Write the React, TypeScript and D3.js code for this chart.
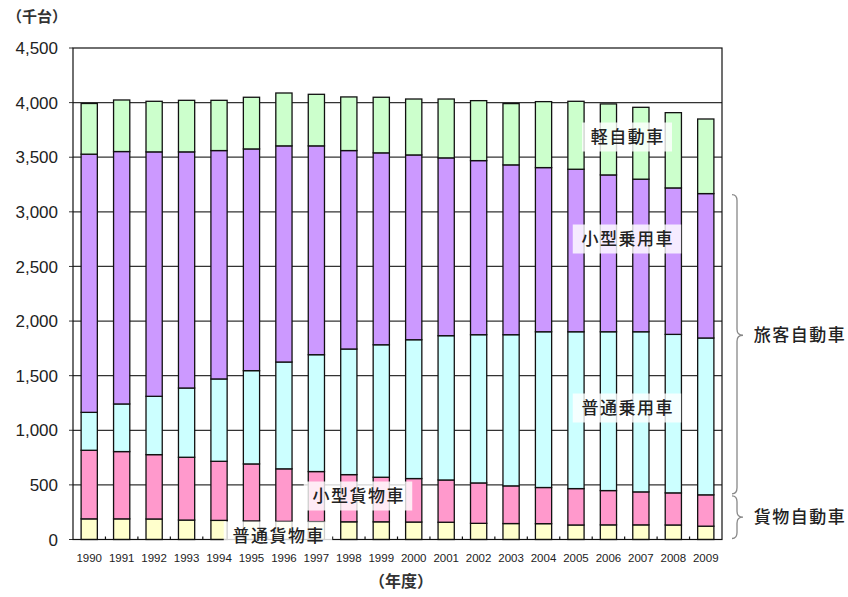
import React from 'react';
import * as d3 from 'd3';

// 年度
const years = [
  '1990', '1991', '1992', '1993', '1994', '1995', '1996', '1997', '1998', '1999',
  '2000', '2001', '2002', '2003', '2004', '2005', '2006', '2007', '2008', '2009',
];

// 車種別の台数（千台）
const futsuKamotsu = [189, 189, 188, 178, 175, 170, 166, 164, 162, 162, 160, 158, 148, 146, 145, 133, 134, 134, 133, 122];
const kogataKamotsu = [628, 616, 589, 575, 541, 522, 481, 458, 432, 408, 398, 387, 370, 345, 331, 333, 314, 302, 294, 287];
const futsuJoyo = [347, 436, 534, 634, 754, 854, 978, 1070, 1150, 1213, 1271, 1321, 1357, 1384, 1426, 1436, 1454, 1466, 1451, 1436];
const kogataJoyo = [2364, 2311, 2238, 2162, 2091, 2030, 1979, 1912, 1817, 1757, 1692, 1628, 1594, 1555, 1503, 1488, 1436, 1397, 1341, 1322];
const keiJidosha = [464, 472, 463, 472, 460, 473, 484, 472, 491, 509, 512, 539, 549, 561, 604, 622, 650, 658, 689, 683];

const seriesNames = ['普通貨物車', '小型貨物車', '普通乗用車', '小型乗用車', '軽自動車'];
const seriesValues = [futsuKamotsu, kogataKamotsu, futsuJoyo, kogataJoyo, keiJidosha];
const seriesColors = ['#ffffcc', '#ff99cc', '#ccffff', '#cc99ff', '#ccffcc'];

const yTicks = [0, 500, 1000, 1500, 2000, 2500, 3000, 3500, 4000, 4500];

const W = 848;
const H = 597;
const plot = { left: 73, right: 722, top: 48, bottom: 539.5 };

const CJK = '"Noto Sans CJK JP", "Noto Sans", sans-serif';
const NUM = '"Liberation Sans", Arial, sans-serif';
const NARROW = '"Liberation Sans Narrow", "Liberation Sans", Arial, sans-serif';

type Row = { year: string } & Record<string, number | string>;

const rows: Row[] = years.map((year, i) => {
  const r: Row = { year };
  seriesNames.forEach((name, k) => {
    r[name] = seriesValues[k][i];
  });
  return r;
});

const stack = d3.stack<Row>().keys(seriesNames).value((d, key) => d[key] as number);
const stacked = stack(rows);

const x = d3
  .scaleBand<string>()
  .domain(years)
  .range([plot.left, plot.right])
  .paddingInner(0.5)
  .paddingOuter(0.25);

const y = d3.scaleLinear().domain([0, 4500]).range([plot.bottom, plot.top]);

// Curly brace opening to the left, tip pointing right
function bracePath(xl: number, y0: number, y1: number, tipFrac: number): string {
  const xs = xl + 5;
  const xt = xl + 11;
  const ym = y0 + (y1 - y0) * tipFrac;
  const c = 6;
  return [
    `M${xl},${y0}`,
    `Q${xs},${y0} ${xs},${y0 + c}`,
    `L${xs},${ym - c}`,
    `Q${xs},${ym} ${xt},${ym}`,
    `Q${xs},${ym} ${xs},${ym + c}`,
    `L${xs},${y1 - c}`,
    `Q${xs},${y1} ${xl},${y1}`,
  ].join(' ');
}

type Note = { text: string; cx: number; cy: number };

const notes: Note[] = [
  { text: '軽自動車', cx: 627, cy: 137 },
  { text: '小型乗用車', cx: 627, cy: 239 },
  { text: '普通乗用車', cx: 627, cy: 408 },
  { text: '小型貨物車', cx: 358, cy: 496 },
  { text: '普通貨物車', cx: 278, cy: 536 },
];

const noteFont = 17;
const noteSpacing = 1.5;

export default function App() {
  const last = years.length - 1;
  const cargoTop = y(futsuKamotsu[last] + kogataKamotsu[last]);
  const passTop = y(
    futsuKamotsu[last] + kogataKamotsu[last] + futsuJoyo[last] + kogataJoyo[last],
  );
  const braceX = 732;

  const passBraceTop = passTop + 1;
  const passBraceBottom = cargoTop - 1;
  const passTip = passBraceTop + (passBraceBottom - passBraceTop) * 0.47;
  const cargoBraceTop = cargoTop + 1;
  const cargoBraceBottom = plot.bottom - 1;
  const cargoTip = (cargoBraceTop + cargoBraceBottom) / 2;

  return (
    <svg
      width={W}
      height={H}
      viewBox={`0 0 ${W} ${H}`}
      style={{ position: 'absolute', left: 0, top: 0, background: '#fff' }}
    >
      <rect x={0} y={0} width={W} height={H} fill="#fff" />

      {/* gridlines */}
      <g>
        {yTicks
          .filter((t) => t > 0 && t < 4500)
          .map((t) => (
            <line
              key={t}
              x1={plot.left}
              x2={plot.right}
              y1={y(t)}
              y2={y(t)}
              stroke="#333"
              strokeWidth={1.2}
            />
          ))}
      </g>

      {/* y-axis ticks and labels */}
      <g>
        {yTicks.map((t) => (
          <g key={t}>
            <line x1={plot.left - 4} x2={plot.left} y1={y(t)} y2={y(t)} stroke="#333" strokeWidth={1} />
            <text
              x={58}
              y={y(t)}
              dy="0.36em"
              textAnchor="end"
              fontFamily={NUM}
              fontSize={17}
              fill="#222"
            >
              {d3.format(',')(t)}
            </text>
          </g>
        ))}
      </g>

      {/* stacked bars */}
      <g>
        {stacked.map((layer, k) => (
          <g key={layer.key} fill={seriesColors[k]} stroke="#111" strokeWidth={1.3}>
            {layer.map((seg, i) => (
              <rect
                key={years[i]}
                x={x(years[i])}
                y={y(seg[1])}
                width={x.bandwidth()}
                height={y(seg[0]) - y(seg[1])}
              />
            ))}
          </g>
        ))}
      </g>

      {/* plot frame */}
      <rect
        x={plot.left}
        y={plot.top}
        width={plot.right - plot.left}
        height={plot.bottom - plot.top}
        fill="none"
        stroke="#111"
        strokeWidth={1.2}
      />

      {/* category tick marks on the baseline */}
      <g>
        {years.slice(1).map((yr) => {
          const bx = (x(yr) as number) - (x.step() - x.bandwidth()) / 2;
          return (
            <line key={yr} x1={bx} x2={bx} y1={plot.bottom} y2={plot.bottom - 3} stroke="#111" strokeWidth={1.2} />
          );
        })}
      </g>

      {/* x-axis labels */}
      <g>
        {years.map((yr) => (
          <text
            key={yr}
            x={(x(yr) as number) + x.bandwidth() / 2}
            y={558}
            dy="0.35em"
            textAnchor="middle"
            fontFamily={NARROW}
            fontSize={11.5}
            fill="#222"
          >
            {yr}
          </text>
        ))}
      </g>

      {/* in-plot series labels */}
      <g>
        {notes.map((n) => {
          const tw = n.text.length * (noteFont + noteSpacing);
          const bw = tw + 16;
          const bh = 29;
          return (
            <g key={n.text}>
              <rect
                x={n.cx - bw / 2}
                y={n.cy - bh / 2}
                width={bw}
                height={bh}
                fill="#fff"
                fillOpacity={0.8}
              />
              <text
                x={n.cx + noteSpacing / 2}
                y={n.cy}
                dy="0.36em"
                textAnchor="middle"
                fontFamily={CJK}
                fontSize={noteFont}
                fontWeight={500}
                letterSpacing={noteSpacing}
                fill="#222"
              >
                {n.text}
              </text>
            </g>
          );
        })}
      </g>

      {/* group braces */}
      <g fill="none" stroke="#888" strokeWidth={1.3}>
        <path d={bracePath(braceX, passBraceTop, passBraceBottom, 0.47)} />
        <path d={bracePath(braceX, cargoBraceTop, cargoBraceBottom, 0.5)} />
      </g>
      <text
        x={800}
        y={passTip}
        dy="0.36em"
        textAnchor="middle"
        fontFamily={CJK}
        fontSize={17}
        fontWeight={500}
        letterSpacing={1.5}
        fill="#222"
      >
        旅客自動車
      </text>
      <text
        x={800}
        y={cargoTip}
        dy="0.36em"
        textAnchor="middle"
        fontFamily={CJK}
        fontSize={17}
        fontWeight={500}
        letterSpacing={1.5}
        fill="#222"
      >
        貨物自動車
      </text>

      {/* axis titles */}
      <text x={37} y={17} dy="0.36em" textAnchor="middle" fontFamily={CJK} fontSize={15} fontWeight={700} fill="#333">
        （千台）
      </text>
      <text x={401} y={581} dy="0.36em" textAnchor="middle" fontFamily={CJK} fontSize={16} fontWeight={700} fill="#333">
        （年度）
      </text>
    </svg>
  );
}
